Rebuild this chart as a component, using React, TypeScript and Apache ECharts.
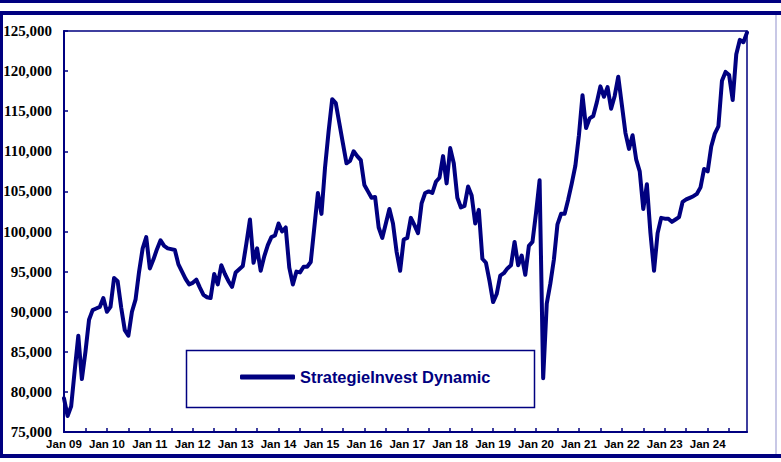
import React, { useEffect, useRef } from "react";
import * as echarts from "echarts";

const seriesName = "StrategieInvest Dynamic";
const startYear = 2009;
const endYear = 2024;

// Monthly values Jan 2009 .. Dec 2024
const values2009 = [79200, 77000, 78200, 82700, 87000, 81600, 85000, 89000, 90200, 90400, 90600, 91700];
const values2010 = [90000, 90600, 94200, 93800, 90500, 87700, 87000, 90000, 91500, 95000, 97900, 99300];
const values2011 = [95400, 96500, 97800, 98900, 98200, 97900, 97800, 97700, 95900, 95000, 94100, 93400];
const values2012 = [93600, 94000, 93000, 92100, 91800, 91700, 94700, 93400, 95800, 94700, 93800, 93100];
const values2013 = [94900, 95300, 95700, 98500, 101500, 96100, 97900, 95100, 96900, 98300, 99300, 99500];
const values2014 = [101000, 100000, 100500, 95500, 93400, 95000, 94900, 95600, 95600, 96200, 100500, 104800];
const values2015 = [102200, 108000, 112500, 116500, 116000, 113500, 111000, 108500, 108800, 110000, 109400, 108900];
const values2016 = [105800, 105000, 104200, 104300, 100500, 99200, 101000, 102800, 101000, 97500, 95100, 99000];
const values2017 = [99200, 101700, 100800, 99800, 103500, 104800, 105000, 104800, 106200, 106700, 109400, 106000];
const values2018 = [110400, 108500, 104200, 103000, 103200, 105600, 104500, 101000, 102700, 96600, 96100, 93800];
const values2019 = [91200, 92200, 94500, 94800, 95400, 95800, 98700, 95800, 97000, 94600, 98200, 98700];
const values2020 = [102300, 106400, 81700, 91000, 93500, 96500, 100900, 102200, 102200, 104000, 106000, 108200];
const values2021 = [112000, 117000, 112900, 114100, 114400, 116100, 118100, 116800, 118000, 115300, 116900, 119300];
const values2022 = [115800, 112300, 110300, 112000, 109000, 107500, 102800, 105900, 99800, 95100, 99800, 101700];
const values2023 = [101600, 101600, 101200, 101500, 101800, 103700, 104000, 104200, 104400, 104700, 105500, 107800];
const values2024 = [107500, 110600, 112200, 113100, 118800, 119900, 119500, 116400, 122100, 123900, 123600, 124800];

const yearlyValues = [
  values2009, values2010, values2011, values2012, values2013, values2014, values2015, values2016,
  values2017, values2018, values2019, values2020, values2021, values2022, values2023, values2024,
];

const monthNames = ["Jan", "Feb", "Mar", "Apr", "May", "Jun", "Jul", "Aug", "Sep", "Oct", "Nov", "Dec"];

const categories: string[] = [];
for (let y = startYear; y <= endYear; y++) {
  for (let m = 0; m < 12; m++) {
    categories.push(`${monthNames[m]} ${String(y % 100).padStart(2, "0")}`);
  }
}
const seriesValues: number[] = yearlyValues.flat();

const NAVY = "#000080";

export default function App() {
  const ref = useRef<HTMLDivElement>(null);

  useEffect(() => {
    if (!ref.current) return;
    const chart = echarts.init(ref.current, null, { renderer: "svg" });
    chart.setOption({
      animation: false,
      backgroundColor: "#ffffff",
      grid: {
        left: 64,
        top: 31,
        right: 34,
        bottom: 30,
        show: true,
        borderColor: NAVY,
        borderWidth: 1.5,
        backgroundColor: "transparent",
      },
      legend: {
        show: true,
        left: 240,
        top: 369,
        padding: 0,
        icon: "roundRect",
        itemWidth: 55,
        itemHeight: 5,
        itemGap: 10,
        textStyle: {
          color: NAVY,
          fontFamily: "Liberation Sans, Arial, sans-serif",
          fontWeight: "bold",
          fontSize: 16.4,
        },
        data: [seriesName],
      },
      graphic: [
        { type: "rect", shape: { x: 0, y: 0, width: 781, height: 3 }, style: { fill: NAVY }, silent: true },
        { type: "rect", shape: { x: 0, y: 11, width: 781, height: 4 }, style: { fill: NAVY }, silent: true },
        { type: "rect", shape: { x: 0, y: 11, width: 3, height: 447 }, style: { fill: NAVY }, silent: true },
        { type: "rect", shape: { x: 0, y: 454, width: 781, height: 4 }, style: { fill: NAVY }, silent: true },
        { type: "rect", shape: { x: 775, y: 15, width: 2, height: 439 }, style: { fill: "#c8c8e6" }, silent: true },
        {
          type: "rect",
          shape: { x: 186.5, y: 350.5, width: 348, height: 57 },
          style: { fill: "#ffffff", stroke: NAVY, lineWidth: 1.5 },
          z: 1,
          silent: true,
        },
      ],
      xAxis: {
        type: "category",
        data: categories,
        boundaryGap: false,
        axisLine: { show: true, lineStyle: { color: NAVY, width: 2 } },
        axisTick: { show: true, inside: true, length: 4, interval: 5, lineStyle: { color: NAVY, width: 1.5 } },
        axisLabel: {
          interval: 11,
          color: "#000",
          fontFamily: "Liberation Sans, Arial, sans-serif",
          fontWeight: "bold",
          fontSize: 11.5,
          margin: 6,
        },
        splitLine: { show: false },
      },
      yAxis: {
        type: "value",
        min: 75000,
        max: 125000,
        interval: 5000,
        axisLine: { show: true, lineStyle: { color: NAVY, width: 2 } },
        axisTick: { show: true, inside: true, length: 4, lineStyle: { color: NAVY, width: 1.5 } },
        axisLabel: {
          color: "#000",
          fontFamily: "Liberation Serif, Times New Roman, serif",
          fontWeight: "bold",
          fontSize: 15,
          margin: 12,
          formatter: (v: number) => v.toLocaleString("en-US"),
        },
        splitLine: { show: false },
      },
      series: [
        {
          name: seriesName,
          type: "line",
          data: seriesValues,
          showSymbol: false,
          symbol: "none",
          z: 3,
          lineStyle: { color: NAVY, width: 4, cap: "round", join: "round" },
          itemStyle: { color: NAVY },
        },
      ],
    });
    return () => chart.dispose();
  }, []);

  return (
    <div
      ref={ref}
      style={{ position: "fixed", left: 0, top: 0, width: 781, height: 462, background: "#fff" }}
    />
  );
}
